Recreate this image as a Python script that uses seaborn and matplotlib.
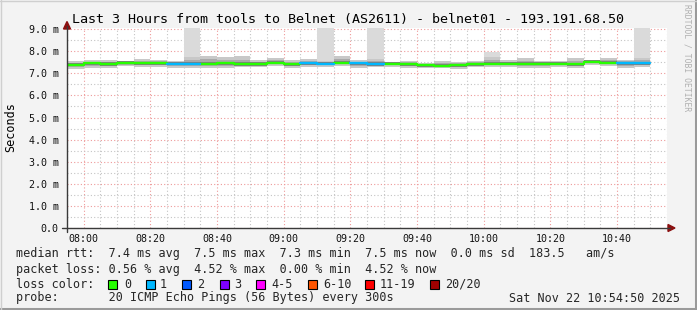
import matplotlib
matplotlib.use("Agg")
import matplotlib.pyplot as plt
import numpy as np
import pandas as pd
import seaborn as sns
from matplotlib.lines import Line2D
from matplotlib.patches import Rectangle, Polygon

sns.set_style("white")
plt.rcParams["font.family"] = ["DejaVu Sans Mono", "DejaVu Sans"]

# ---------------- data ----------------
title = "Last 3 Hours from tools to Belnet (AS2611) - belnet01 - 193.191.68.50"
start_time = "07:55"
end_time = "10:55"
step_minutes = 5

median_ms = [7.38, 7.45, 7.42, 7.47, 7.46, 7.46, 7.44, 7.44, 7.44, 7.46,
             7.42, 7.42, 7.47, 7.41, 7.45, 7.43, 7.48, 7.45, 7.42, 7.43,
             7.41, 7.37, 7.35, 7.36, 7.40, 7.44, 7.44, 7.44, 7.44, 7.44,
             7.40, 7.53, 7.47, 7.46, 7.46]
loss_count = [0, 0, 0, 0, 0, 0, 1, 1, 0, 0,
              0, 0, 0, 0, 1, 1, 0, 1, 1, 0,
              0, 0, 0, 0, 0, 0, 0, 0, 0, 0,
              0, 0, 0, 1, 1]
smoke_lo = [7.19, 7.25, 7.25, 7.32, 7.30, 7.30, 7.25, 7.25, 7.22, 7.22,
            7.30, 7.30, 7.34, 7.25, 7.30, 7.30, 7.34, 7.22, 7.30, 7.30,
            7.25, 7.22, 7.22, 7.19, 7.27, 7.30, 7.30, 7.25, 7.25, 7.30,
            7.25, 7.38, 7.34, 7.25, 7.30]
smoke_hi = [7.57, 7.60, 7.62, 7.57, 7.64, 7.60, 7.57, 7.75, 7.78, 7.74,
            7.78, 7.60, 7.68, 7.58, 7.64, 7.55, 7.78, 7.60, 7.64, 7.53,
            7.57, 7.47, 7.57, 7.53, 7.57, 7.75, 7.60, 7.68, 7.57, 7.57,
            7.70, 7.62, 7.70, 7.62, 7.70]
smoke_top = [7.57, 7.60, 7.62, 7.57, 7.64, 7.60, 7.57, 9.30, 7.78, 7.74,
             7.78, 7.60, 7.68, 7.58, 7.64, 9.30, 7.78, 7.60, 9.30, 7.53,
             7.57, 7.47, 7.57, 7.53, 7.57, 7.97, 7.60, 7.68, 7.57, 7.57,
             7.70, 7.62, 7.70, 7.62, 9.30]

x_tick_labels = ["08:00", "08:20", "08:40", "09:00", "09:20",
                 "09:40", "10:00", "10:20", "10:40"]
y_tick_values = [0, 1, 2, 3, 4, 5, 6, 7, 8, 9]
y_tick_labels = ["0.0", "1.0 m", "2.0 m", "3.0 m", "4.0 m",
                 "5.0 m", "6.0 m", "7.0 m", "8.0 m", "9.0 m"]
y_max = 9.05

loss_legend_labels = ["0", "1", "2", "3", "4-5", "6-10", "11-19", "20/20"]
loss_legend_colors = ["#26ff00", "#00b8ff", "#0059ff", "#7e00ff",
                      "#ff00ff", "#ff5500", "#ff0000", "#a10000"]

line_rtt = "median rtt:  7.4 ms avg  7.5 ms max  7.3 ms min  7.5 ms now  0.0 ms sd  183.5   am/s"
line_loss = "packet loss: 0.56 % avg  4.52 % max  0.00 % min  4.52 % now"
line_probe = "probe:       20 ICMP Echo Pings (56 Bytes) every 300s"
stamp = "Sat Nov 22 10:54:50 2025"
ylabel = "Seconds"
watermark = "RRDTOOL / TOBI OETIKER"

# ---------------- helpers ----------------
W, H = 697, 310
def fx(x):
    return x / W
def fy(y):
    return 1 - y / H
def hm(s):
    h, m = s.split(":")
    return int(h) * 60 + int(m)

t0 = hm(start_time)
t1 = hm(end_time)
t_start = np.array([t0 + i * step_minutes for i in range(len(median_ms))])
med = np.array(median_ms)
lo = np.array(smoke_lo)
hi = np.array(smoke_hi)
top = np.array(smoke_top)

BG = "#f3f3f3"
fig = plt.figure(figsize=(W / 100, H / 100), dpi=100, facecolor=BG)
ax = fig.add_axes([fx(67), fy(228), fx(667) - fx(67), fy(28) - fy(228)])
ax.set_facecolor("white")

# grid
ax.set_xlim(t0, t1)
ax.set_ylim(0, y_max)
ax.set_xticks([hm(s) for s in x_tick_labels])
ax.set_xticklabels(x_tick_labels)
ax.set_xticks(np.arange(t0, t1 + 0.1, step_minutes), minor=True)
ax.set_yticks(y_tick_values)
ax.set_yticklabels(y_tick_labels)
ax.set_yticks(np.arange(0.5, 9.0, 1.0), minor=True)
ax.set_axisbelow(True)
ax.grid(which="minor", color="#c4c4c4", linestyle=(0, (1, 2)), linewidth=0.8)
ax.grid(which="major", color="#ee9a9a", linestyle=(0, (1, 2)), linewidth=0.8)

# smoke
w = step_minutes
ax.bar(t_start, top - lo, bottom=lo, width=w, align="edge", color="#dadada", linewidth=0, zorder=2)
ax.bar(t_start, hi - lo, bottom=lo, width=w, align="edge", color="#c8c8c8", linewidth=0, zorder=2)
in_lo = med - 0.55 * (med - lo)
in_hi = med + 0.55 * (hi - med)
ax.bar(t_start, in_hi - in_lo, bottom=in_lo, width=w, align="edge", color="#a9a9a9", linewidth=0, zorder=2)
ax.bar(t_start, 0.14, bottom=med - 0.07, width=w, align="edge", color="#7e7e7e", linewidth=0, zorder=2)

# median lines coloured by loss
rows = []
for i, (t, m, l) in enumerate(zip(t_start, med, loss_count)):
    rows.append({"t": t, "v": m, "seg": i, "loss": str(l)})
    rows.append({"t": t + w, "v": m, "seg": i, "loss": str(l)})
df = pd.DataFrame(rows)
palette = {str(i): loss_legend_colors[i] for i in range(4)}
sns.lineplot(data=df, x="t", y="v", units="seg", estimator=None, hue="loss",
             palette=palette, legend=False, linewidth=1.7, ax=ax, zorder=3)

ax.set_xlabel("")
ax.set_ylabel("")
for s in ax.spines.values():
    s.set_visible(False)
ax.tick_params(which="both", length=0)
ax.tick_params(axis="x", pad=4, labelsize=7.2, colors="#111111")
ax.tick_params(axis="y", pad=6, labelsize=7.2, colors="#111111")

# axes lines with arrows
tf = fig.transFigure
fig.add_artist(Line2D([fx(67), fx(67)], [fy(232), fy(26)], color="#3a3a3a", lw=1.0, transform=tf))
fig.add_artist(Line2D([fx(62), fx(670)], [fy(228), fy(228)], color="#3a3a3a", lw=1.0, transform=tf))
fig.add_artist(Polygon([[fx(63.5), fy(29)], [fx(70.5), fy(29)], [fx(67), fy(21.5)]],
                       closed=True, color="#8b1010", transform=tf))
fig.add_artist(Polygon([[fx(668), fy(224.5)], [fx(668), fy(231.5)], [fx(675), fy(228)]],
                       closed=True, color="#8b1010", transform=tf))

# texts
fig.text(fx(348), fy(19), title, ha="center", va="center", fontsize=9.6, color="#000000")
fig.text(fx(11), fy(127), ylabel, ha="center", va="center", rotation=90, fontsize=8.5, color="#000000")
fig.text(fx(687), fy(4), watermark, ha="center", va="top", rotation=270, fontsize=5.8, color="#b0b0b0")

fs = 8.5
fig.text(fx(16), fy(254), line_rtt, ha="left", va="center", fontsize=fs)
fig.text(fx(16), fy(269), line_loss, ha="left", va="center", fontsize=fs)
fig.text(fx(16), fy(284), "loss color:", ha="left", va="center", fontsize=fs)
box_x = [108, 146, 182, 220, 256, 308, 365, 430]
lab_x = [124, 160, 197, 234, 271, 323, 380, 445]
for bx, lx, lab, col in zip(box_x, lab_x, loss_legend_labels, loss_legend_colors):
    fig.add_artist(Rectangle((fx(bx), fy(288.5)), 9 / W, 9 / H, facecolor=col,
                             edgecolor="#000000", lw=0.8, transform=tf))
    fig.text(fx(lx), fy(284), lab, ha="left", va="center", fontsize=fs)
fig.text(fx(16), fy(298), line_probe, ha="left", va="center", fontsize=fs)
fig.text(fx(680), fy(298), stamp, ha="right", va="center", fontsize=fs)

# frame (3d border)
fig.add_artist(Line2D([fx(0), fx(697)], [fy(308.5), fy(308.5)], color="#9a9a9a", lw=2.2, transform=tf))
fig.add_artist(Line2D([fx(695.5), fx(695.5)], [fy(0), fy(310)], color="#9a9a9a", lw=2.2, transform=tf))
fig.add_artist(Line2D([fx(0), fx(697)], [fy(0.5), fy(0.5)], color="#cfcfcf", lw=1.0, transform=tf))
fig.add_artist(Line2D([fx(0.5), fx(0.5)], [fy(0), fy(310)], color="#cfcfcf", lw=1.0, transform=tf))

fig.savefig("out.png", dpi=100, facecolor=BG)
